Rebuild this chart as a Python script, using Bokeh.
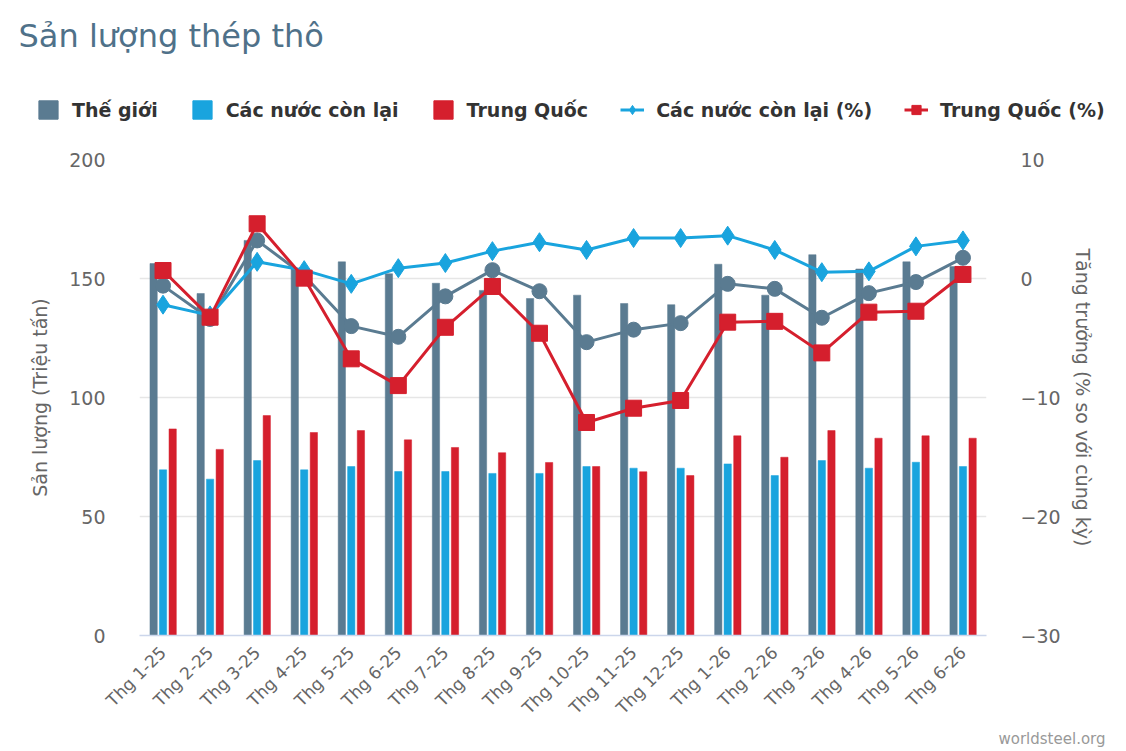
import math
from bokeh.plotting import figure
from bokeh.layouts import column
from bokeh.models import (FactorRange, Range1d, LinearAxis, FixedTicker, Legend,
                          LegendItem, Title, Label, ColumnDataSource)
from bokeh.transform import dodge
from bokeh.embed import file_html
from bokeh.resources import INLINE

# ---- data ----
months = ["Thg 1-25", "Thg 2-25", "Thg 3-25", "Thg 4-25", "Thg 5-25", "Thg 6-25",
          "Thg 7-25", "Thg 8-25", "Thg 9-25", "Thg 10-25", "Thg 11-25", "Thg 12-25",
          "Thg 1-26", "Thg 2-26", "Thg 3-26", "Thg 4-26", "Thg 5-26", "Thg 6-26"]
the_gioi = [156.3, 143.7, 166.0, 154.0, 157.0, 152.0, 148.0, 145.0, 141.6, 143.0,
            139.5, 139.0, 156.0, 143.0, 160.0, 154.0, 157.0, 155.0]
cac_nuoc_con_lai = [69.6, 65.7, 73.5, 69.6, 71.0, 68.9, 68.9, 68.1, 68.1, 71.0,
                    70.3, 70.3, 72.1, 67.2, 73.5, 70.3, 72.8, 71.0]
trung_quoc = [86.8, 78.2, 92.4, 85.3, 86.1, 82.2, 79.0, 76.8, 72.7, 71.0,
              68.8, 67.2, 83.9, 74.9, 86.1, 82.9, 83.9, 82.9]
the_gioi_pct = [-0.6, -3.4, 3.2, 0.25, -4.0, -4.9, -1.5, 0.7, -1.07, -5.35,
                -4.3, -3.75, -0.45, -0.87, -3.3, -1.23, -0.3, 1.74]
cac_nuoc_pct = [-2.2, -3.1, 1.4, 0.7, -0.45, 0.87, 1.3, 2.3, 3.05, 2.4,
                3.4, 3.4, 3.6, 2.4, 0.53, 0.6, 2.7, 3.2]
trung_quoc_pct = [0.67, -3.25, 4.6, 0.03, -6.75, -9.0, -4.1, -0.67, -4.6, -12.1,
                  -10.9, -10.25, -3.67, -3.6, -6.25, -2.83, -2.75, 0.34]
left_ticks = [0, 50, 100, 150, 200]
right_ticks = [-30, -20, -10, 0, 10]
right_tick_labels = ["\u221230", "\u221220", "\u221210", "0", "10"]
series_names = ["Thế giới", "Các nước còn lại", "Trung Quốc",
                "Các nước còn lại (%)", "Trung Quốc (%)"]
title_text = "Sản lượng thép thô"
source_text = "worldsteel.org"

GREY = "#5a7b91"
BLUE = "#19a4de"
RED = "#d51f2d"
FONT = "DejaVu Sans"
W = 1126
HEADER_H = 135
MAIN_H = 751 - HEADER_H

# ================= header: title + legend =================
hdr = figure(width=W, height=HEADER_H, x_range=Range1d(0, W), y_range=Range1d(HEADER_H, 0),
             x_axis_type=None, y_axis_type=None, output_backend="svg",
             toolbar_location=None, title=None,
             min_border_left=0, min_border_right=0, min_border_top=0, min_border_bottom=0)
hdr.frame_align = False
hdr.grid.visible = False
hdr.outline_line_color = None

hdr.add_layout(Label(x=18, y=35, text=title_text, text_font=FONT, text_font_size="32px",
                     text_color="#4f7189", text_baseline="middle", text_align="left"))

# invisible placeholder renderers (no drawable point) that only supply legend glyphs
nan = float("nan")
ph = ColumnDataSource(dict(x=[nan], y=[nan]))
d1 = hdr.vbar(x="x", top="y", width=1, source=ph, fill_color=GREY, line_color=GREY)
d2 = hdr.vbar(x="x", top="y", width=1, source=ph, fill_color=BLUE, line_color=BLUE)
d3 = hdr.vbar(x="x", top="y", width=1, source=ph, fill_color=RED, line_color=RED)
dl2 = hdr.line(x="x", y="y", source=ph, line_color=BLUE, line_width=3)
ds2 = hdr.scatter(x="x", y="y", source=ph, marker="diamond", size=15,
                  fill_color=BLUE, line_color=BLUE)
dl3 = hdr.line(x="x", y="y", source=ph, line_color=RED, line_width=3)
ds3 = hdr.scatter(x="x", y="y", source=ph, marker="square", size=13,
                  fill_color=RED, line_color=RED)

legend = Legend(items=[
    LegendItem(label=series_names[0], renderers=[d1]),
    LegendItem(label=series_names[1], renderers=[d2]),
    LegendItem(label=series_names[2], renderers=[d3]),
    LegendItem(label=series_names[3], renderers=[dl2, ds2]),
    LegendItem(label=series_names[4], renderers=[dl3, ds3]),
], orientation="horizontal", location=(36, 14),
    label_text_font=FONT, label_text_font_style="bold", label_text_font_size="19px",
    label_text_color="#333333", glyph_width=24, glyph_height=23, label_standoff=12,
    spacing=32, padding=0, margin=0, border_line_color=None, background_fill_alpha=0)
hdr.add_layout(legend, "center")

# ================= main chart =================
src = ColumnDataSource(dict(m=months, tg=the_gioi, cn=cac_nuoc_con_lai, tq=trung_quoc,
                            tgp=the_gioi_pct, cnp=cac_nuoc_pct, tqp=trung_quoc_pct))

p = figure(x_range=FactorRange(*months), y_range=Range1d(0, 200),
           width=W, height=MAIN_H, output_backend="svg", toolbar_location=None, title=None,
           min_border_left=139, min_border_right=140, min_border_top=24,
           min_border_bottom=116)
p.frame_align = False
p.extra_y_ranges = {"pct": Range1d(-30, 10)}

# bars
bw = 0.155
p.vbar(x=dodge("m", -0.2, range=p.x_range), top="tg", width=bw, source=src,
       fill_color=GREY, line_color=GREY, line_width=0.5)
p.vbar(x=dodge("m", 0.0, range=p.x_range), top="cn", width=bw, source=src,
       fill_color=BLUE, line_color=BLUE, line_width=0.5)
p.vbar(x=dodge("m", 0.205, range=p.x_range), top="tq", width=bw, source=src,
       fill_color=RED, line_color=RED, line_width=0.5)

# lines
p.line(x="m", y="tgp", source=src, y_range_name="pct", line_color=GREY, line_width=3)
p.scatter(x="m", y="tgp", source=src, y_range_name="pct", marker="circle", size=15,
          fill_color=GREY, line_color=GREY)
p.line(x="m", y="cnp", source=src, y_range_name="pct", line_color=BLUE, line_width=3)
p.scatter(x="m", y="cnp", source=src, y_range_name="pct", marker="diamond", size=19,
          fill_color=BLUE, line_color=BLUE)
p.line(x="m", y="tqp", source=src, y_range_name="pct", line_color=RED, line_width=3)
p.scatter(x="m", y="tqp", source=src, y_range_name="pct", marker="square", size=16,
          fill_color=RED, line_color=RED)

# axes
p.yaxis.ticker = FixedTicker(ticks=left_ticks)
p.yaxis.axis_label = "Sản lượng (Triệu tấn)"
ax_r = LinearAxis(y_range_name="pct", ticker=FixedTicker(ticks=right_ticks),
                  major_label_overrides={float(t): s for t, s in zip(right_ticks, right_tick_labels)},
                  axis_label="Tăng trưởng (% so với cùng kỳ)")
p.add_layout(ax_r, "right")

for ax in [p.yaxis[0], ax_r]:
    ax.axis_line_color = None
    ax.major_tick_line_color = None
    ax.minor_tick_line_color = None
    ax.major_label_standoff = 28
    ax.major_label_text_font = FONT
    ax.major_label_text_font_size = "19px"
    ax.major_label_text_color = "#666666"
    ax.axis_label_text_font = FONT
    ax.axis_label_text_font_size = "19px"
    ax.axis_label_text_font_style = "normal"
    ax.axis_label_text_color = "#666666"
p.yaxis[0].axis_label_standoff = 15
ax_r.axis_label_standoff = 8

xa = p.xaxis[0]
xa.major_label_orientation = math.pi / 4
xa.axis_line_color = "#ccd6eb"
xa.axis_line_width = 1.5
xa.major_tick_line_color = None
xa.minor_tick_line_color = None
xa.major_label_standoff = 8
xa.major_label_text_font = FONT
xa.major_label_text_font_size = "17px"
xa.major_label_text_color = "#666666"

p.xgrid.grid_line_color = None
p.ygrid.grid_line_color = "#e6e6e6"
p.ygrid.grid_line_width = 1.5
p.outline_line_color = None

p.add_layout(Title(text=source_text, align="right", text_font=FONT,
                   text_font_size="15px", text_font_style="normal",
                   text_color="#999999", offset=-119, standoff=0), "below")

layout = column(hdr, p, spacing=0)
open("out.html", "w").write(file_html(layout, INLINE))
